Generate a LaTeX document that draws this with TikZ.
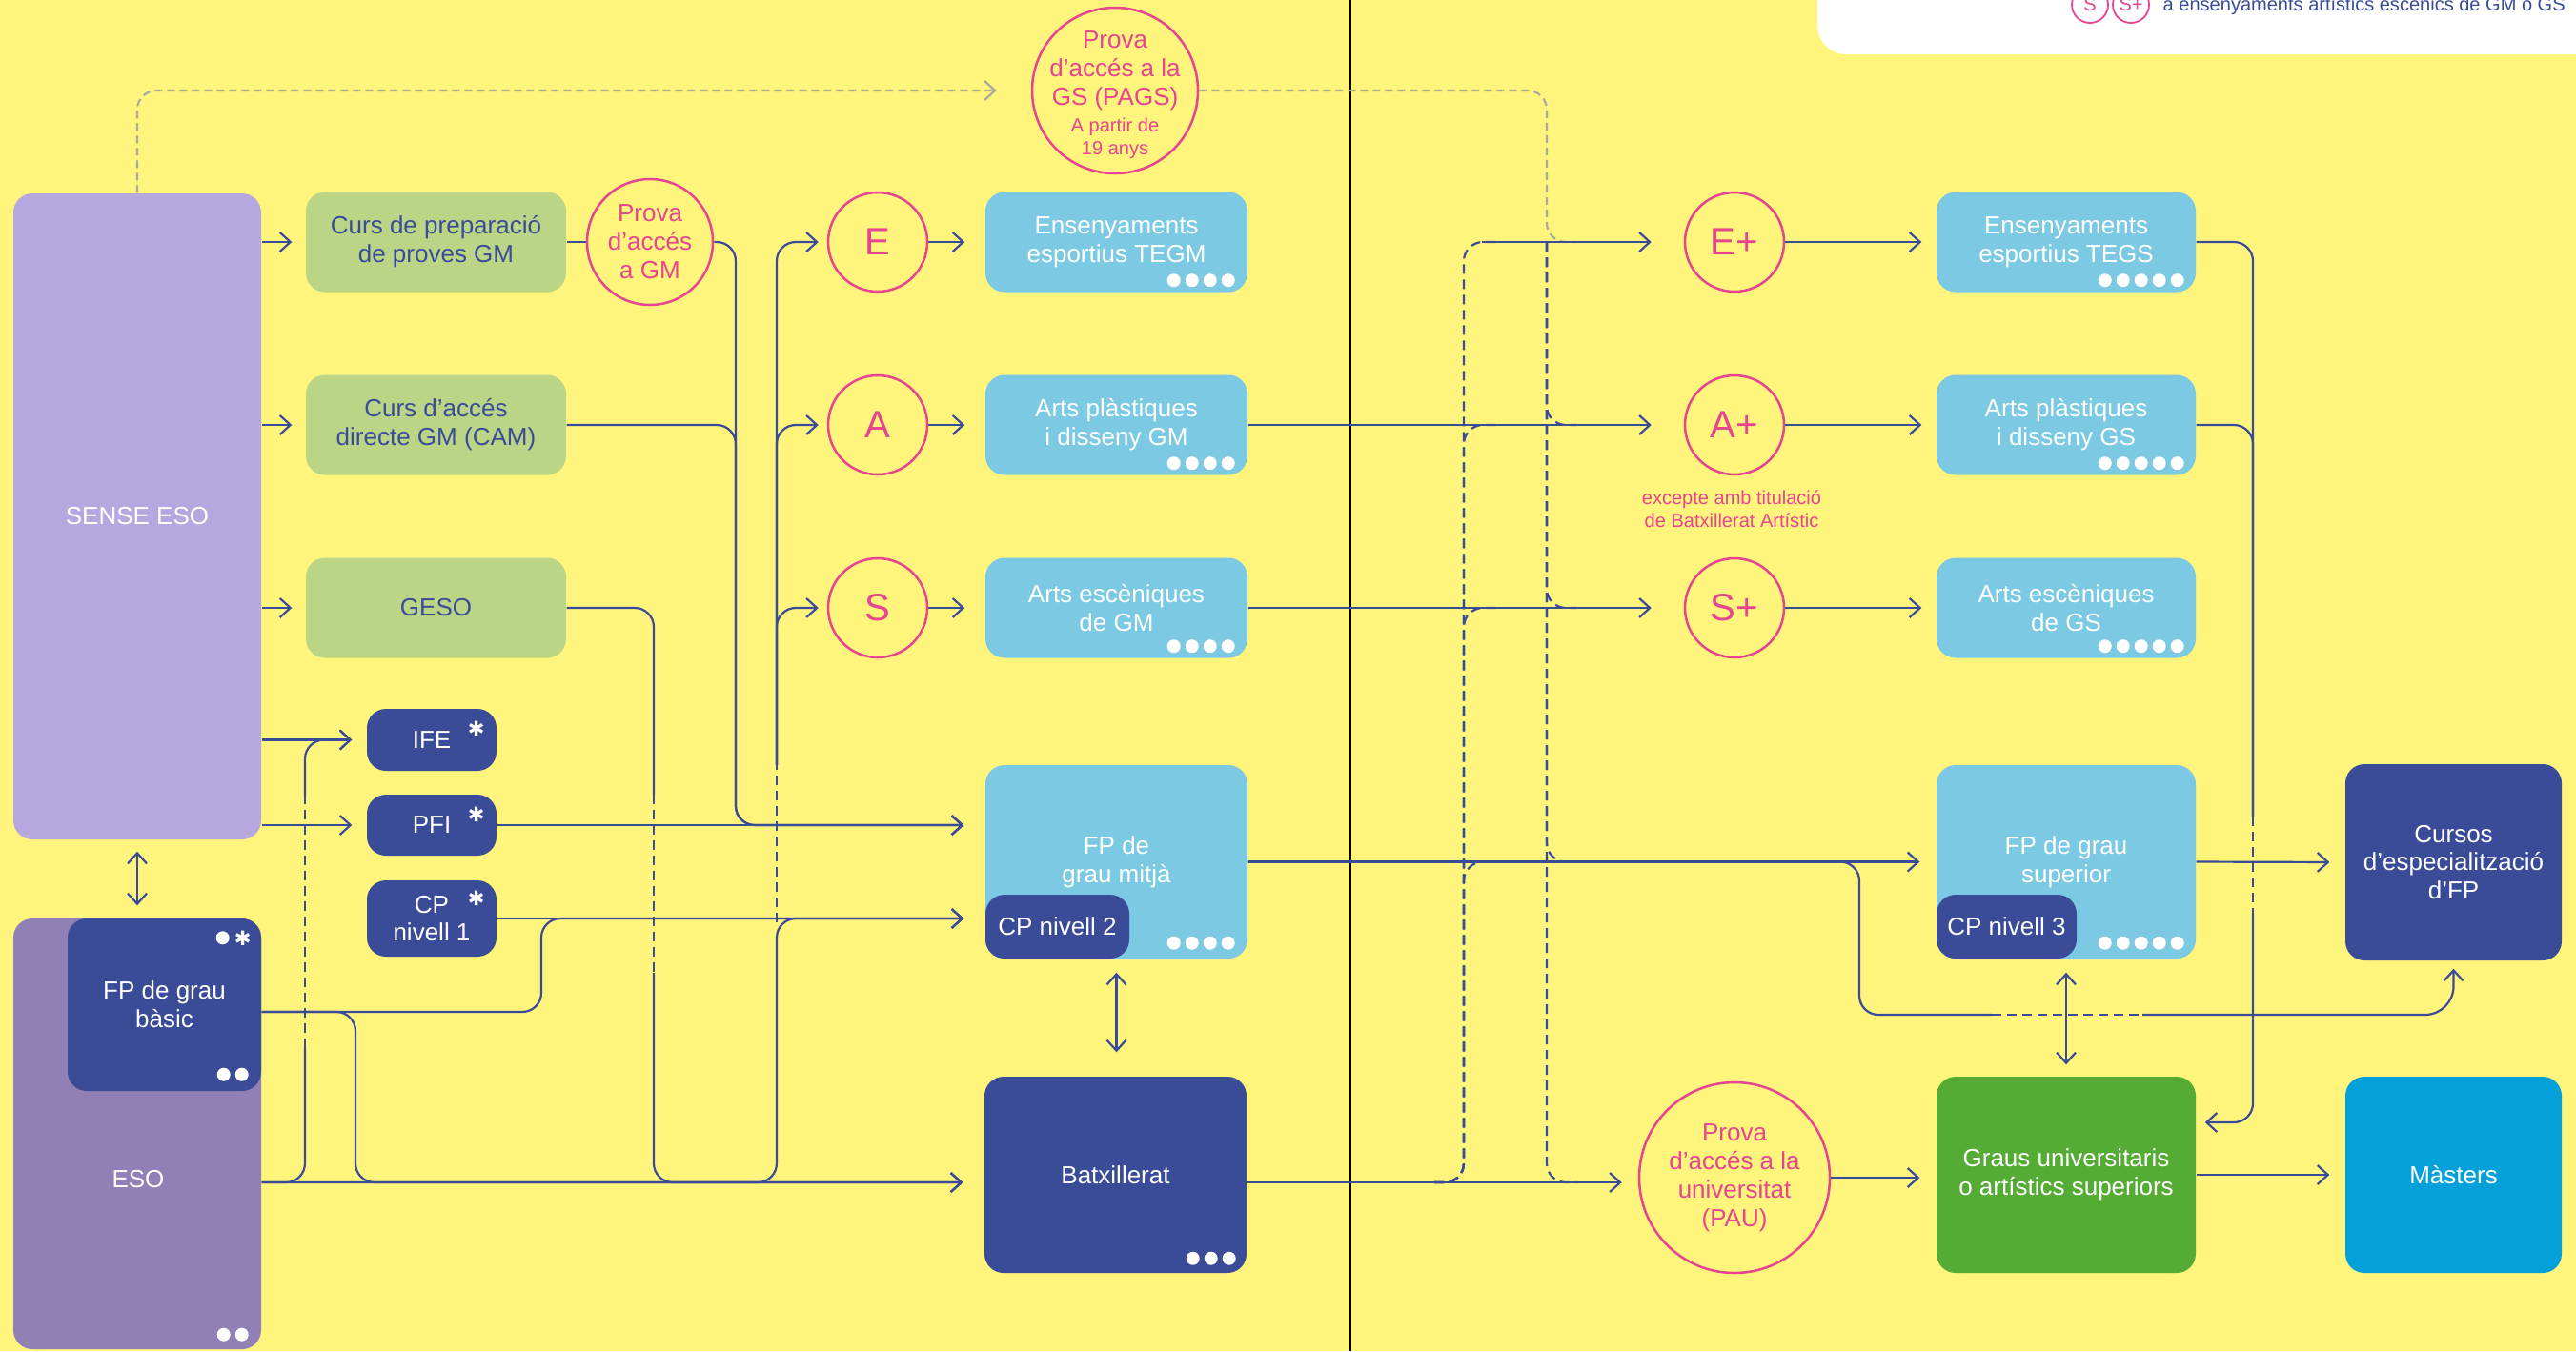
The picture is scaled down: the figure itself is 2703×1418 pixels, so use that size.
\documentclass[tikz,border=0pt]{standalone}
\usepackage{fontspec}
\setmainfont{Liberation Sans}
\newfontfamily\simbols{DejaVu Sans}
\usetikzlibrary{arrows.meta}
\definecolor{fons}{HTML}{FFF47C}
\definecolor{blau}{HTML}{3A4C98}
\definecolor{cel}{HTML}{7BC9E3}
\definecolor{verd}{HTML}{B9D585}
\definecolor{rosa}{HTML}{E6458F}
\definecolor{lila}{HTML}{B5A8DE}
\definecolor{malva}{HTML}{9180B6}
\definecolor{verdfosc}{HTML}{55AC35}
\definecolor{blaumar}{HTML}{03A0DA}
\definecolor{gris}{HTML}{A9A99C}
\tikzset{
  txt/.style={font=\fontsize{7.4}{8.5}\selectfont, align=center},
  petit/.style={font=\fontsize{5.7}{6.8}\selectfont, align=center},
  caixa/.style={txt, rounded corners=2mm, inner sep=0pt},
  verda/.style={caixa, fill=verd, text=blau, minimum width=27.3mm, minimum height=10.5mm},
  celeste/.style={caixa, fill=cel, text=white, minimum width=27.5mm, minimum height=10.5mm},
  fosca/.style={caixa, fill=blau, text=white},
  prova/.style={txt, circle, draw=rosa, line width=0.25mm, text=rosa, inner sep=0pt},
  lletra/.style={prova, minimum size=10.4mm, font=\fontsize{11.4}{12}\selectfont},
  estrella/.style={font=\simbols\fontsize{6}{6}\selectfont, text=white, inner sep=0pt},
  punts/.style={white, line width=1.4mm, line cap=round, dash pattern=on 0pt off 1.9mm},
  linia/.style={draw=blau, line width=0.22mm, rounded corners=2mm},
  fletxa/.style={linia, -{Straight Barb[length=1.1mm,width=2mm]}, shorten >=2.2mm},
  doble/.style={linia, {Straight Barb[length=1.1mm,width=2mm]}-{Straight Barb[length=1.1mm,width=2mm]}},
  tallada/.style={linia, dash pattern=on 1mm off 0.6mm},
  grisa/.style={draw=gris, line width=0.22mm, rounded corners=2mm, dash pattern=on 0.8mm off 0.5mm}
}
\begin{document}
\begin{tikzpicture}[x=0.1mm,y=-0.1mm]
  \path[use as bounding box, fill=fons] (0,0) rectangle (2703,1418);
  \clip (0,0) rectangle (2703,1418);
  \fill[white, rounded corners=3mm] (1907,-60) rectangle (2760,57);
  \node[prova, petit, line width=0.18mm, minimum size=3.8mm] (llS) at (2193,5) {S};
  \node[prova, petit, line width=0.18mm, minimum size=3.8mm] (llSplus) at (2236,5) {S+};
  \node[petit, text=blau, anchor=base west, inner sep=0pt] (lltxt) at (2269,11) {a ensenyaments artístics escènics de GM o GS};
  \draw[black, line width=0.2mm] (1417,0) -- (1417,1418);

  \node[caixa, fill=lila, text=white, minimum width=26mm, minimum height=67.8mm] (sense) at (144,542) {SENSE ESO};
  \node[caixa, fill=malva, minimum width=26mm, minimum height=45.2mm] (eso) at (144,1190) {};
  \node[txt, text=white] (esotxt) at (145,1238) {ESO};
  \node[fosca, minimum width=20.3mm, minimum height=18.1mm] (fpb) at (172.5,1054.5) {FP de grau\\bàsic};
  \coordinate (esoout) at ([yshift=-5.1mm]eso.east);

  \node[verda] (curs) at (457.5,254) {Curs de preparació\\de proves GM};
  \node[verda] (cam) at (457.5,446) {Curs d'accés\\directe GM (CAM)};
  \node[verda] (geso) at (457.5,638) {GESO};
  \node[prova, minimum size=13.2mm] (provagm) at (682,254) {Prova\\d'accés\\a GM};
  \node[fosca, minimum width=13.6mm, minimum height=6.5mm] (ife) at (453,776.5) {IFE};
  \node[fosca, minimum width=13.6mm, minimum height=6.4mm] (pfi) at (453,866) {PFI};
  \node[fosca, minimum width=13.6mm, minimum height=8mm] (cp1) at (453,964) {CP\\nivell 1};

  \node[lletra] (E) at (921,254) {E};
  \node[lletra] (A) at (921,446) {A};
  \node[lletra] (S) at (921,638) {S};
  \node[celeste] (tegm) at (1171.5,254) {Ensenyaments\\esportius TEGM};
  \node[celeste] (apgm) at (1171.5,446) {Arts plàstiques\\i disseny GM};
  \node[celeste] (aegm) at (1171.5,638) {Arts escèniques\\de GM};
  \node[celeste, minimum height=20.3mm] (fpgm) at (1171.5,904.5) {FP de\\grau mitjà};
  \node[fosca, minimum width=15.1mm, minimum height=6.7mm] (cp2) at (1109.5,972.5) {CP nivell 2};
  \node[fosca, minimum width=27.5mm, minimum height=20.6mm] (batx) at (1170.5,1233) {Batxillerat};

  \node[prova, minimum size=17.4mm] (pags) at (1170,95) {};
  \node[txt, text=rosa] (pagstxt) at (1170,74) {Prova\\d'accés a la\\GS (PAGS)};
  \node[petit, text=rosa] (pagsedat) at (1170,145) {A partir de\\19 anys};

  \node[lletra] (Eplus) at (1820,254) {E+};
  \node[lletra] (Aplus) at (1820,446) {A+};
  \node[lletra] (Splus) at (1820,638) {S+};
  \node[petit, text=rosa] (excepte) at (1817,534) {excepte amb titulació\\de Batxillerat Artístic};
  \node[prova, minimum size=20mm] (pau) at (1820,1236) {Prova\\d'accés a la\\universitat\\(PAU)};
  \node[celeste, minimum width=27.2mm] (tegs) at (2168,254) {Ensenyaments\\esportius TEGS};
  \node[celeste, minimum width=27.2mm] (apgs) at (2168,446) {Arts plàstiques\\i disseny GS};
  \node[celeste, minimum width=27.2mm] (aegs) at (2168,638) {Arts escèniques\\de GS};
  \node[celeste, minimum width=27.2mm, minimum height=20.3mm] (fpgs) at (2168,904.5) {FP de grau\\superior};
  \node[fosca, minimum width=14.7mm, minimum height=6.7mm] (cp3) at (2105.5,972.5) {CP nivell 3};
  \node[fosca, minimum width=22.7mm, minimum height=20.6mm] (cursos) at (2574.5,905) {Cursos\\d'especialització\\d'FP};
  \node[caixa, fill=verdfosc, text=white, minimum width=27.2mm, minimum height=20.6mm] (graus) at (2168,1233) {Graus universitaris\\o artístics superiors};
  \node[caixa, fill=blaumar, text=white, minimum width=22.7mm, minimum height=20.6mm] (masters) at (2574.5,1233) {Màsters};

  \node[estrella] (ifeast) at ([xshift=-2.2mm,yshift=-2.1mm]ife.north east) {✱};
  \node[estrella] (pfiast) at ([xshift=-2.2mm,yshift=-2.1mm]pfi.north east) {✱};
  \node[estrella] (cp1ast) at ([xshift=-2.2mm,yshift=-1.9mm]cp1.north east) {✱};
  \node[estrella] (fpbast) at ([xshift=-2mm,yshift=-2.1mm]fpb.north east) {✱};
  \fill[white] ([xshift=-4.1mm,yshift=-2.1mm]fpb.north east) circle (0.7mm);
  \draw[punts] ([xshift=-2.1mm,yshift=1.8mm]fpb.south east) -- ++(-1.95mm,0pt);
  \draw[punts] ([xshift=-2.1mm,yshift=1.6mm]eso.south east) -- ++(-1.95mm,0pt);
  \draw[punts] ([xshift=-2.1mm,yshift=1.3mm]tegm.south east) -- ++(-5.75mm,0pt);
  \draw[punts] ([xshift=-2.1mm,yshift=1.3mm]apgm.south east) -- ++(-5.75mm,0pt);
  \draw[punts] ([xshift=-2.1mm,yshift=1.3mm]aegm.south east) -- ++(-5.75mm,0pt);
  \draw[punts] ([xshift=-2.1mm,yshift=1.7mm]fpgm.south east) -- ++(-5.75mm,0pt);
  \draw[punts] ([xshift=-1.9mm,yshift=1.6mm]batx.south east) -- ++(-3.85mm,0pt);
  \draw[punts] ([xshift=-2.0mm,yshift=1.3mm]tegs.south east) -- ++(-7.65mm,0pt);
  \draw[punts] ([xshift=-2.0mm,yshift=1.3mm]apgs.south east) -- ++(-7.65mm,0pt);
  \draw[punts] ([xshift=-2.0mm,yshift=1.3mm]aegs.south east) -- ++(-7.65mm,0pt);
  \draw[punts] ([xshift=-2.0mm,yshift=1.7mm]fpgs.south east) -- ++(-7.65mm,0pt);

  \coordinate (pujada) at (1505,1241);
  \coordinate (baixada) at (1623,254);
  \coordinate (entrada) at (1555,254);
  \draw[grisa, -{Straight Barb[length=1.1mm,width=2mm]}, shorten >=3.6mm] (sense.north) |- (pags.west);
  \draw[grisa] (pags.east) -- (1623,95) -- (1623,254) -- (1655,254);
  \draw[tallada] (pujada) -- (1536,1241) -- (1536,254) -- (1570,254);
  \draw[tallada] (pujada) -- (1536,1241) -- (1536,446) -- (1570,446);
  \draw[tallada] (pujada) -- (1536,1241) -- (1536,638) -- (1570,638);
  \draw[tallada] (pujada) -- (1536,1241) -- (1536,904.5) -- (1570,904.5);
  \draw[tallada] (baixada) -- (1623,446) -- (1655,446);
  \draw[tallada] (baixada) -- (1623,638) -- (1655,638);
  \draw[tallada] (baixada) -- (1623,904.5) -- (1655,904.5);
  \draw[tallada] (baixada) -- (1623,1241) -- (1655,1241);

  \draw[fletxa, shorten >=1.4mm] (sense.east |- curs.west) -- (curs.west);
  \draw[fletxa, shorten >=1.4mm] (sense.east |- cam.west) -- (cam.west);
  \draw[fletxa, shorten >=1.4mm] (sense.east |- geso.west) -- (geso.west);
  \draw[fletxa, shorten >=1.5mm] (sense.east |- ife.west) -- (ife.west);
  \draw[fletxa, shorten >=1.5mm] (sense.east |- pfi.west) -- (pfi.west);
  \draw[doble, shorten <=1.2mm, shorten >=1.3mm] (sense.south) -- (eso.north);
  \draw[linia] (curs.east) -- (provagm.west);
  \draw[fletxa] (provagm.east) -- (772,254) -- (772,866) -- (fpgm.west |- pfi.east);
  \draw[fletxa] (cam.east) -- (772,446) -- (772,866) -- (fpgm.west |- pfi.east);
  \draw[fletxa] (pfi.east) -- (fpgm.west |- pfi.east);
  \draw[fletxa] (cp1.east) -- (fpgm.west |- cp1.east);
  \draw[fletxa] ([yshift=-0.75mm]fpb.east) -- (568,1062) -- (568,964) -- (fpgm.west |- cp1.east);
  \draw[fletxa] ([yshift=-0.75mm]fpb.east) -- (373,1062) -- (373,1241) -- (batx.west |- esoout);
  \draw[fletxa] (esoout) -- (batx.west |- esoout);
  \draw[linia] (esoout) -- (320,1241) -- (320,1100);
  \draw[tallada] (320,1100) -- (320,835);
  \draw[fletxa, shorten >=1.5mm] (320,835) -- (320,776.5) -- (ife.west);
  \draw[linia] (geso.east) -- (686,638) -- (686,834);
  \draw[tallada] (686,834) -- (686,1021);
  \draw[fletxa] (686,1021) -- (686,1241) -- (batx.west |- esoout);
  \draw[fletxa] (esoout) -- (815,1241) -- (815,964) -- (fpgm.west |- cp1.east);
  \draw[tallada] (815,968) -- (815,803);
  \draw[fletxa, shorten >=0.9mm] (815,803) -- (815,254) -- (E.west);
  \draw[fletxa, shorten >=0.9mm] (815,803) -- (815,446) -- (A.west);
  \draw[fletxa, shorten >=0.9mm] (815,803) -- (815,638) -- (S.west);
  \draw[fletxa, shorten >=2.1mm] (E.east) -- (tegm.west);
  \draw[fletxa, shorten >=2.1mm] (A.east) -- (apgm.west);
  \draw[fletxa, shorten >=2.1mm] (S.east) -- (aegm.west);
  \draw[doble, shorten <=1.4mm, shorten >=2.5mm] (fpgm.south) -- (fpgm.south |- batx.north);

  \draw[fletxa, shorten >=3.4mm] (entrada) -- (Eplus.west);
  \draw[fletxa, shorten >=3.4mm] (apgm.east) -- (Aplus.west);
  \draw[fletxa, shorten >=3.4mm] (aegm.east) -- (Splus.west);
  \draw[fletxa, shorten >=1.7mm] (batx.east |- esoout) -- (pau.west |- esoout);
  \draw[fletxa, shorten >=1.5mm] (Eplus.east) -- (tegs.west);
  \draw[fletxa, shorten >=1.5mm] (Aplus.east) -- (apgs.west);
  \draw[fletxa, shorten >=1.5mm] (Splus.east) -- (aegs.west);
  \draw[fletxa, shorten >=1.7mm] (fpgm.east) -- (fpgs.west);
  \draw[linia] (fpgm.east) -- (1951,904.5) -- (1951,1065) -- (2090,1065);
  \draw[tallada] (2090,1065) -- (2248,1065);
  \draw[fletxa, rounded corners=3mm, shorten >=0.8mm] (2248,1065) -- (cursos.south |- 2248,1065) -- (cursos.south);
  \draw[fletxa, shorten >=1.6mm] (fpgs.east) -- (cursos.west);
  \draw[doble, shorten <=1.4mm, shorten >=1.2mm] (fpgs.south) -- (graus.north);
  \draw[linia] (tegs.east) -- (2364,254) -- (2364,857);
  \draw[linia] (apgs.east) -- (2364,446) -- (2364,857);
  \draw[tallada] (2364,857) -- (2364,959);
  \draw[fletxa, shorten >=0.9mm] (2364,959) -- (2364,1178) -- ([yshift=5.5mm]graus.east);
  \draw[fletxa, shorten >=1.7mm] (pau.east) -- (graus.west |- pau.east);
  \draw[fletxa, shorten >=1.6mm] (graus.east) -- (masters.west);
\end{tikzpicture}
\end{document}
